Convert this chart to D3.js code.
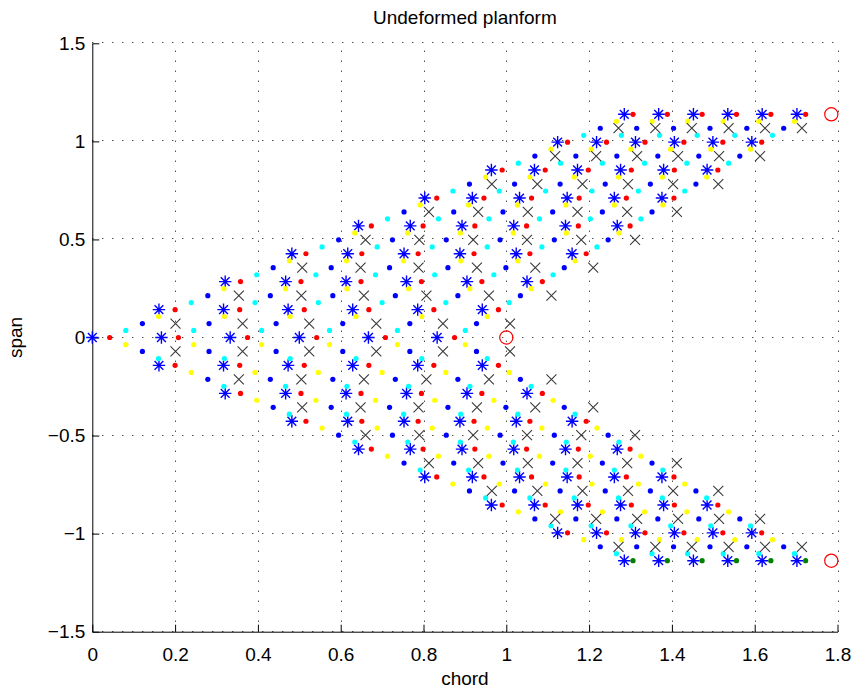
<!DOCTYPE html>
<html>
<head>
<meta charset="utf-8">
<script src="https://cdn.jsdelivr.net/npm/d3@7"></script>
<style>
  body { margin: 0; background: #fff; }
  svg { display: block; }
  text { font-family: "Liberation Sans", Arial, Helvetica, sans-serif; fill: #000; }
</style>
</head>
<body>
<svg id="chart" width="856" height="692"></svg>
<script>
// Vortex-lattice planform: 8 spanwise strips x 6 chordwise panels per half wing.
// Span stations (|y|) of the strip edges, root to tip.
const stationY = [0, 0.142, 0.285, 0.427, 0.569, 0.711, 0.854, 0.996, 1.138];

// Panel leading-edge corners at each span station.
const cornerX = [
  [0.000, 0.167, 0.333, 0.500, 0.667, 0.833],
  [0.161, 0.317, 0.473, 0.629, 0.786, 0.942],
  [0.321, 0.467, 0.613, 0.759, 0.905, 1.050],
  [0.482, 0.617, 0.753, 0.888, 1.024, 1.159],
  [0.643, 0.768, 0.893, 1.018, 1.143, 1.268],
  [0.803, 0.918, 1.032, 1.147, 1.261, 1.376],
  [0.964, 1.068, 1.172, 1.276, 1.380, 1.485],
  [1.124, 1.218, 1.312, 1.406, 1.499, 1.593],
  [1.285, 1.368, 1.452, 1.535, 1.618, 1.702]
];

// Bound-vortex end points (quarter chord) at each span station.
const boundX = [
  [0.042, 0.208, 0.375, 0.542, 0.708, 0.875],
  [0.200, 0.356, 0.512, 0.668, 0.825, 0.981],
  [0.358, 0.504, 0.649, 0.795, 0.941, 1.087],
  [0.516, 0.651, 0.787, 0.922, 1.057, 1.193],
  [0.674, 0.799, 0.924, 1.049, 1.174, 1.299],
  [0.832, 0.946, 1.061, 1.176, 1.290, 1.405],
  [0.990, 1.094, 1.198, 1.302, 1.406, 1.511],
  [1.148, 1.242, 1.335, 1.429, 1.523, 1.617],
  [1.306, 1.389, 1.473, 1.556, 1.639, 1.723]
];

// Points along each bound vortex: a quarter, half and three quarters of the strip.
const innerY = [0.036, 0.178, 0.320, 0.462, 0.605, 0.747, 0.889, 1.031];
const innerX = [
  [0.081, 0.245, 0.409, 0.573, 0.737, 0.901],
  [0.239, 0.393, 0.546, 0.700, 0.854, 1.007],
  [0.397, 0.540, 0.684, 0.827, 0.970, 1.113],
  [0.555, 0.688, 0.821, 0.954, 1.086, 1.219],
  [0.713, 0.836, 0.958, 1.080, 1.203, 1.325],
  [0.871, 0.983, 1.095, 1.207, 1.319, 1.431],
  [1.029, 1.131, 1.232, 1.334, 1.436, 1.537],
  [1.187, 1.278, 1.370, 1.461, 1.552, 1.643]
];
const midY = [0.071, 0.213, 0.356, 0.498, 0.640, 0.782, 0.925, 1.067];
const midX = [
  [0.121, 0.282, 0.444, 0.605, 0.767, 0.928],
  [0.279, 0.430, 0.581, 0.732, 0.883, 1.034],
  [0.437, 0.577, 0.718, 0.859, 0.999, 1.140],
  [0.595, 0.725, 0.855, 0.985, 1.116, 1.246],
  [0.753, 0.873, 0.992, 1.112, 1.232, 1.352],
  [0.911, 1.020, 1.130, 1.239, 1.348, 1.458],
  [1.069, 1.168, 1.267, 1.366, 1.465, 1.564],
  [1.227, 1.315, 1.404, 1.492, 1.581, 1.670]
];
const outerY = [0.107, 0.249, 0.391, 0.533, 0.676, 0.818, 0.960, 1.102];
const outerX = [
  [0.160, 0.319, 0.478, 0.637, 0.796, 0.954],
  [0.318, 0.467, 0.615, 0.764, 0.912, 1.060],
  [0.476, 0.614, 0.752, 0.890, 1.028, 1.166],
  [0.634, 0.762, 0.889, 1.017, 1.145, 1.272],
  [0.792, 0.909, 1.027, 1.144, 1.261, 1.378],
  [0.950, 1.057, 1.164, 1.271, 1.377, 1.484],
  [1.108, 1.205, 1.301, 1.397, 1.494, 1.590],
  [1.266, 1.352, 1.438, 1.524, 1.610, 1.696]
];

// Collocation points (three-quarter chord, mid strip), at midY.
const collocX = [
  [0.201, 0.363, 0.524, 0.686, 0.847, 1.009],
  [0.354, 0.505, 0.656, 0.807, 0.958, 1.109],
  [0.507, 0.648, 0.788, 0.929, 1.070, 1.210],
  [0.660, 0.790, 0.920, 1.050, 1.181, 1.311],
  [0.813, 0.932, 1.052, 1.172, 1.292, 1.412],
  [0.965, 1.075, 1.184, 1.294, 1.403, 1.512],
  [1.118, 1.217, 1.316, 1.415, 1.514, 1.613],
  [1.271, 1.360, 1.448, 1.537, 1.625, 1.714]
];

// Trailing-edge root and tip corners.
const trailX = [1.0, 1.785, 1.785];
const trailY = [0, 1.138, -1.138];

// Axis ticks.
const xTicks = [0, 0.2, 0.4, 0.6, 0.8, 1, 1.2, 1.4, 1.6, 1.8];
const yTicks = [-1.5, -1, -0.5, 0, 0.5, 1, 1.5];

// ---------------------------------------------------------------
const svg = d3.select("#chart");
svg.append("rect").attr("width", 856).attr("height", 692).attr("fill", "#fff");

const x = d3.scaleLinear().domain([0, 1.8]).range([92.3, 837.5]);
const y = d3.scaleLinear().domain([-1.5, 1.5]).range([631.7, 43.3]);
const fmt = d3.format("~g");

// rows -> [x, y] pairs; sign picks the half wing
const pairs = (xs, ys, sign, rows) =>
  (rows || d3.range(ys.length)).flatMap(k => xs[k].map(v => [v, sign * ys[k]]));

// grid
const grid = svg.append("g").attr("stroke", "#000").attr("stroke-width", 1)
  .attr("stroke-dasharray", "1,9").attr("fill", "none");
grid.selectAll("line.gx").data(xTicks.slice(1)).join("line").attr("class", "gx")
  .attr("x1", d => Math.round(x(d)) + 0.5).attr("x2", d => Math.round(x(d)) + 0.5)
  .attr("y1", y(-1.5)).attr("y2", y(1.5));
grid.selectAll("line.gy").data(yTicks).join("line").attr("class", "gy")
  .attr("y1", d => Math.round(y(d)) - 0.5).attr("y2", d => Math.round(y(d)) - 0.5)
  .attr("x1", x(0)).attr("x2", x(1.8));

// axes (ticks inward, no box)
const xAxis = svg.append("g").attr("transform", `translate(0,${y(-1.5)})`)
  .call(d3.axisBottom(x).tickValues(xTicks).tickFormat(fmt).tickSizeInner(-7).tickSizeOuter(0).tickPadding(16));
const yAxis = svg.append("g").attr("transform", `translate(${x(0)},0)`)
  .call(d3.axisLeft(y).tickValues(yTicks).tickFormat(fmt).tickSizeInner(-7).tickSizeOuter(0).tickPadding(7));
[xAxis, yAxis].forEach(a => {
  a.selectAll("path.domain").attr("stroke", "#000").attr("stroke-width", 1);
  a.selectAll(".tick line").attr("stroke", "#000");
  a.selectAll("text").attr("font-size", 19).attr("font-family", '"Liberation Sans", Arial, sans-serif');
});

// markers
const plot = svg.append("g");

const star = "M-6.2,0H6.2M0,-6.2V6.2M-4.4,-4.4L4.4,4.4M-4.4,4.4L4.4,-4.4";
const cross = "M-5,-5L5,5M-5,5L5,-5";

function dots(data, color) {
  plot.append("g").selectAll("circle").data(data).join("circle")
    .attr("cx", d => x(d[0])).attr("cy", d => y(d[1]))
    .attr("r", 2.6).attr("fill", color);
}
function glyphs(data, path, color, width) {
  plot.append("g").selectAll("path").data(data).join("path")
    .attr("d", path).attr("transform", d => `translate(${x(d[0])},${y(d[1])})`)
    .attr("fill", "none").attr("stroke", color).attr("stroke-width", width);
}

// panel corners
glyphs([...pairs(cornerX, stationY, 1), ...pairs(cornerX, stationY, -1, d3.range(1, 9))], star, "#0000ff", 1.4);

// bound-vortex points
dots(pairs(midX, midY, 1).concat(pairs(midX, midY, -1)), "#0000ff");
dots(pairs(innerX, innerY, 1).concat(pairs(outerX, outerY, -1)), "#00ffff");
dots(pairs(outerX, outerY, 1).concat(pairs(innerX, innerY, -1)), "#ffff00");
dots(pairs(boundX, stationY, 1).concat(pairs(boundX, stationY, -1, d3.range(1, 8))), "#ff0000");
dots(pairs(boundX, stationY, -1, [8]), "#008000");

// collocation points
glyphs(pairs(collocX, midY, 1).concat(pairs(collocX, midY, -1)), cross, "#3a3a3a", 1.1);

// trailing-edge corners
plot.append("g").selectAll("circle").data(d3.zip(trailX, trailY)).join("circle")
  .attr("cx", d => x(d[0])).attr("cy", d => y(d[1])).attr("r", 6.6)
  .attr("fill", "none").attr("stroke", "#ff0000").attr("stroke-width", 1.2);

// labels
svg.append("text").attr("x", (x(0) + x(1.8)) / 2).attr("y", 24)
  .attr("text-anchor", "middle").attr("font-size", 19).text("Undeformed planform");
svg.append("text").attr("x", (x(0) + x(1.8)) / 2).attr("y", 685)
  .attr("text-anchor", "middle").attr("font-size", 19).text("chord");
svg.append("text").attr("transform", `translate(22,${y(0)}) rotate(-90)`)
  .attr("text-anchor", "middle").attr("font-size", 19).text("span");
</script>
</body>
</html>
